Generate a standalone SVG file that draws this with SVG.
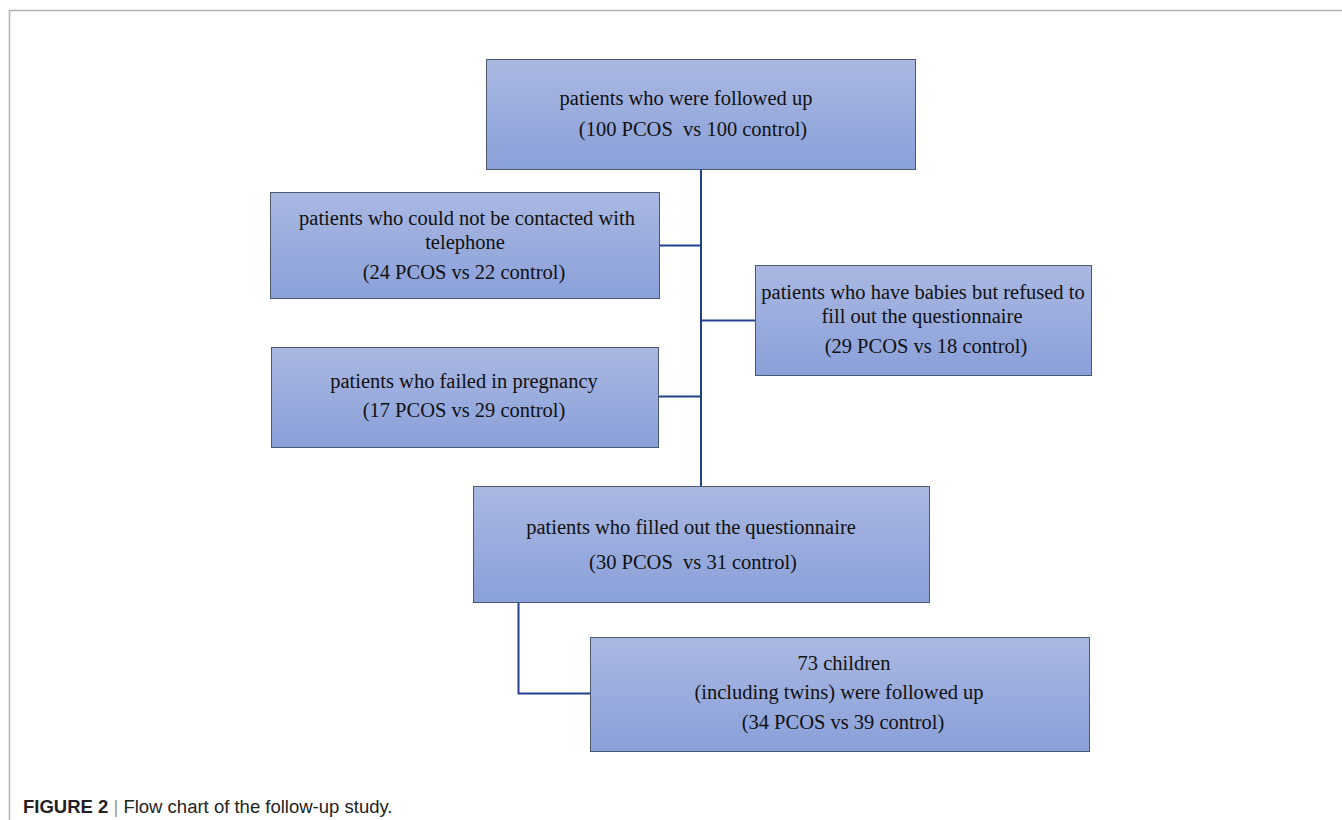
<svg xmlns="http://www.w3.org/2000/svg" width="1342" height="820" viewBox="0 0 1342 820">
<defs>
<linearGradient id="g" x1="0" y1="0" x2="0" y2="1">
<stop offset="0" stop-color="#AAB8E2"/>
<stop offset="1" stop-color="#8AA0D9"/>
</linearGradient>
</defs>
<style>
.box{fill:url(#g);stroke:#4A5870;stroke-width:1}
.t{font-family:"Liberation Serif","Times New Roman",serif;font-size:20.5px;fill:#111;text-anchor:middle}
.c{fill:none;stroke:#23408A;stroke-width:2}
.frame{stroke:#B0B0B0;stroke-width:1.5;fill:none}
.cap{font-family:"Liberation Sans",Arial,sans-serif;font-size:18.5px;fill:#222}
</style>
<rect width="1342" height="820" fill="#fff"/>
<path class="frame" d="M9.5 820 V10.5 H1342"/>
<g id="connectors">
<path class="c" d="M701 169 V486"/>
<path class="c" d="M659 245.5 H701"/>
<path class="c" d="M701 320.5 H755"/>
<path class="c" d="M658 396.5 H701"/>
<path class="c" d="M518.5 602 V693.5 H590"/>
</g>
<g id="n1">
<rect class="box" x="486.5" y="59.5" width="429" height="110"/>
<text class="t" x="686" y="105">patients who were followed up</text>
<text class="t" x="693" y="136" xml:space="preserve">(100 PCOS&#160; vs 100 control)</text>
</g>
<g id="n2">
<rect class="box" x="270.5" y="192.5" width="389" height="106"/>
<text class="t" x="467" y="225">patients who could not be contacted with</text>
<text class="t" x="465" y="249">telephone</text>
<text class="t" x="464" y="279">(24 PCOS vs 22 control)</text>
</g>
<g id="n3">
<rect class="box" x="755.5" y="265.5" width="336" height="110"/>
<text class="t" x="923" y="299">patients who have babies but refused to</text>
<text class="t" x="922" y="323">fill out the questionnaire</text>
<text class="t" x="926" y="353">(29 PCOS vs 18 control)</text>
</g>
<g id="n4">
<rect class="box" x="271.5" y="347.5" width="387" height="100"/>
<text class="t" x="464" y="388">patients who failed in pregnancy</text>
<text class="t" x="464" y="417">(17 PCOS vs 29 control)</text>
</g>
<g id="n5">
<rect class="box" x="473.5" y="486.5" width="456" height="116"/>
<text class="t" x="691" y="534">patients who filled out the questionnaire</text>
<text class="t" x="693" y="569">(30 PCOS&#160; vs 31 control)</text>
</g>
<g id="n6">
<rect class="box" x="590.5" y="637.5" width="499" height="114"/>
<text class="t" x="844" y="670">73 children</text>
<text class="t" x="839" y="699">(including twins) were followed up</text>
<text class="t" x="843" y="729">(34 PCOS vs 39 control)</text>
</g>
<text class="cap" x="23" y="813"><tspan font-weight="bold">FIGURE 2</tspan><tspan fill="#999">&#160;|&#160;</tspan>Flow chart of the follow-up study.</text>
</svg>
